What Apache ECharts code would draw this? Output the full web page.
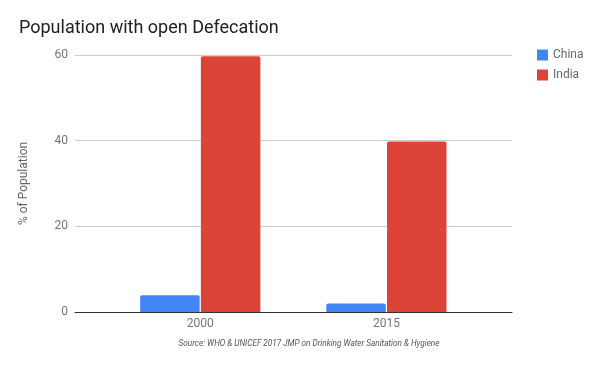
<!DOCTYPE html>
<html>
<head>
<meta charset="utf-8">
<script src="https://cdn.jsdelivr.net/npm/echarts@6/dist/echarts.min.js"></script>
<style>html,body{margin:0;padding:0;background:#fff;}#c{width:600px;height:371px;}</style>
</head>
<body>
<div id="c"></div>
<script>
var categories = ['2000', '2015'];
var chinaValues = [3.9, 2.0];
var indiaValues = [59.7, 39.8];
var yTicks = [0, 20, 40, 60];
var seriesNames = ['China', 'India'];

var chart = echarts.init(document.getElementById('c'), null, {renderer: 'canvas'});
var font = 'Roboto, Arial, sans-serif';
chart.setOption({
  animation: false,
  backgroundColor: '#ffffff',
  title: {
    text: 'Population with open Defecation',
    left: 14, top: 14,
    textStyle: {fontFamily: font, fontSize: 18, fontWeight: 'normal', color: '#212121'}
  },
  legend: {
    orient: 'vertical', left: 532, top: 44,
    itemWidth: 11, itemHeight: 11, itemGap: 8,
    icon: 'rect',
    textStyle: {fontFamily: font, fontSize: 12, color: '#666666', padding: [0, 0, 0, 0]},
    data: seriesNames
  },
  grid: [
    {left: 75, right: 88, top: 55, bottom: 59},
    {left: 107.2, right: 120.5, top: 55, bottom: 59}
  ],
  xAxis: [
    {gridIndex: 0, type: 'value', min: 0, max: 1,
     axisLine: {show: true, onZero: false, lineStyle: {color: '#333333', width: 1}},
     axisTick: {show: false}, axisLabel: {show: false}, splitLine: {show: false}},
    {gridIndex: 1, type: 'category', data: categories,
     axisLine: {show: false}, axisTick: {show: false},
     axisLabel: {fontFamily: font, fontSize: 12, color: '#757575', margin: 6}}
  ],
  yAxis: [
    {gridIndex: 0, type: 'value', min: yTicks[0], max: yTicks[yTicks.length - 1], interval: 20,
     name: '% of Population', nameLocation: 'middle', nameGap: 45,
     nameTextStyle: {fontFamily: font, fontSize: 12, color: '#666666'},
     axisLine: {show: false}, axisTick: {show: false},
     axisLabel: {fontFamily: font, fontSize: 12, color: '#757575', margin: 7},
     splitLine: {lineStyle: {color: '#cccccc', width: 1}}},
    {gridIndex: 1, type: 'value', min: yTicks[0], max: yTicks[yTicks.length - 1], show: false,
     splitLine: {show: false}}
  ],
  series: [
    {name: seriesNames[0], type: 'bar', xAxisIndex: 1, yAxisIndex: 1, data: chinaValues,
     barWidth: 59.5, barGap: '2%',
     itemStyle: {color: '#4285F4', borderRadius: [2, 2, 0, 0]}},
    {name: seriesNames[1], type: 'bar', xAxisIndex: 1, yAxisIndex: 1, data: indiaValues,
     barWidth: 59.5,
     itemStyle: {color: '#DB4437', borderRadius: [2, 2, 0, 0]}}
  ],
  graphic: [
    {type: 'text', x: 309, y: 340,
     style: {text: 'Source: WHO & UNICEF 2017 JMP on Drinking Water Sanitation & Hygiene',
       textAlign: 'center',
       fontFamily: font, fontSize: 8.2, fontStyle: 'italic', fill: '#555555'}}
  ]
});
</script>
</body>
</html>
